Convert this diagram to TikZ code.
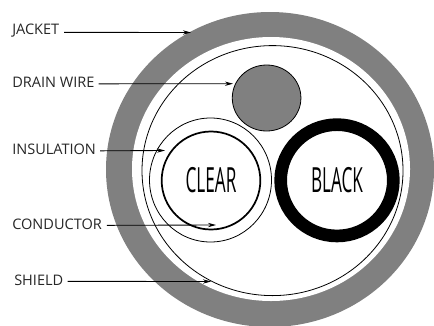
\documentclass[tikz,border=0pt]{standalone}
\usepackage{fontspec}
\setmainfont{Open Sans}
\usetikzlibrary{shapes.geometric, arrows.meta}
\definecolor{jacketgray}{HTML}{808080}
\tikzset{
	lbl/.style={font=\fontsize{10.9}{13}\selectfont, text=black!85, inner sep=0pt, anchor=west},
	wirelbl/.style={font=\fontsize{26}{28}\selectfont},
	lead/.style={-{Stealth[length=6pt, width=3.2pt]}, line width=0.65pt},
}
\begin{document}
\begin{tikzpicture}[x=0.75pt, y=-0.75pt]
	\useasboundingbox (0,0) rectangle (434,325);
	% Vo ngoai
	\fill[jacketgray] (270,169.5) ellipse (164 and 157.5);
	\fill[white] (271,169) ellipse (139 and 132);
	\draw[line width=0.6pt] (272.5,170.6) ellipse (130.5 and 125);
	
	% Day thoat
	\node[ellipse, draw, line width=0.6pt, fill=jacketgray, minimum width=51.5pt, minimum height=49.5pt, inner sep=0pt] (drain) at (266.6,98) {};
	
	% Hai loi day
	\node[ellipse, draw, line width=0.6pt, minimum width=91.5pt, minimum height=93pt, inner sep=0pt] (insulring) at (210.5,180) {};
	\node[ellipse, draw, line width=1.3pt, minimum width=74pt, minimum height=73.5pt, inner sep=0pt, wirelbl] (clear) at (211,180.5) {\scalebox{0.495}[1]{CLEAR}};
	\node[ellipse, draw, line width=9.5pt, minimum width=84.5pt, minimum height=83.5pt, inner sep=0pt, wirelbl] (black) at (337,180.3) {\scalebox{0.495}[1]{BLACK}};
	
	% Nhan
	\node[lbl] (jacket) at (12,31) {JACKET};
	\node[lbl] (drainlbl) at (12,82.5) {DRAIN WIRE};
	\node[lbl] (insul) at (12,149.5) {INSULATION};
	\node[lbl] (cond) at (12,224) {CONDUCTOR};
	\node[lbl] (shield) at (14,280) {SHIELD};
	
	% Diem cuoi mui ten
	\coordinate (jacketend) at (191,32.5);
	\coordinate (drainend) at (233,83.7);
	\coordinate (insulend) at (165,150.5);
	\coordinate (condend) at (216,225);
	\coordinate (shieldend) at (211,281.5);
	
	\draw[lead] ([shift={(3.5pt,-1pt)}]jacket.east) -- (jacketend);
	\draw[lead] ([shift={(3pt,-1pt)}]drainlbl.east) -- (drainend);
	\draw[lead] ([shift={(3pt,-1pt)}]insul.east) -- (insulend);
	\draw[lead] ([shift={(3.5pt,-1pt)}]cond.east) -- (condend);
	\draw[lead] ([shift={(3pt,-1pt)}]shield.east) -- (shieldend);
\end{tikzpicture}
\end{document}
